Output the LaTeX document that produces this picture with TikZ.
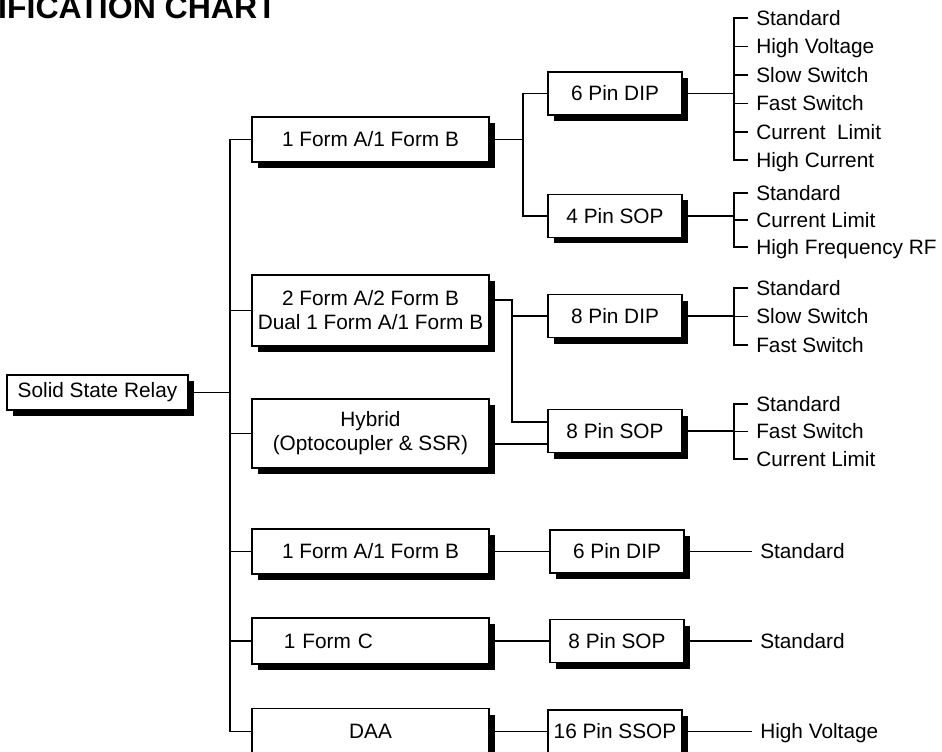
\documentclass[tikz,border=0pt]{standalone}
\usepackage{fontspec}
\setmainfont{Liberation Sans}
\usetikzlibrary{shadows}

\begin{document}
\begin{tikzpicture}[
			x=0.75pt,
			y=-0.75pt,
			every node/.style={font=\fontsize{15.6}{18}\selectfont},
			boxnode/.style={draw, fill=white, line width=0.9pt, align=center, inner sep=0pt,
				drop shadow={shadow xshift=4.5pt, shadow yshift=-4.5pt, fill=black, opacity=1}},
			typebox/.style={boxnode, minimum width=177.75pt, minimum height=33.75pt},
			pinbox/.style={boxnode, minimum width=100.5pt, minimum height=32.25pt},
			leaf/.style={anchor=west, inner xsep=6pt, inner ysep=0pt, text height=11.2pt, text depth=0pt},
			link/.style={line width=1.15pt}
		]
		\useasboundingbox (0,0) rectangle (942,752);
		\node[anchor=base east, inner sep=0pt, font=\fontsize{24}{28}\selectfont\bfseries] (title) at (277,19) {CLASSIFICATION CHART};

		% root and relay types
		\node[boxnode, minimum width=135.75pt, minimum height=26.25pt] (ssr) at (97.5,392.5) {Solid State Relay};
		\node[typebox] (f1a) at (370.5,139.5) {1 Form A/1 Form B};
		\node[typebox, minimum height=53.25pt] (f2a) at (370.5,310.5) {2 Form A/2 Form B\\Dual 1 Form A/1 Form B};
		\node[typebox, minimum height=51.75pt] (hyb) at (370.5,433.5) {Hybrid\\(Optocoupler \& SSR)};
		\node[typebox] (f1b) at (370.5,551.5) {1 Form A/1 Form B};
		\node[typebox, minimum height=34.5pt, text width=130pt, align=left] (f1c) at (370.5,641) {1 Form C};
		\node[typebox, minimum height=34.5pt] (daa) at (370.5,731.5) {DAA};

		% packages
		\node[pinbox] (dip6) at (615,93.5) {6 Pin DIP};
		\node[pinbox] (sop4) at (615,216) {4 Pin SOP};
		\node[pinbox] (dip8) at (615,316) {8 Pin DIP};
		\node[pinbox] (sop8) at (615,431) {8 Pin SOP};
		\node[pinbox] (dip6b) at (617,551.5) {6 Pin DIP};
		\node[pinbox] (sop8b) at (617,641) {8 Pin SOP};
		\node[pinbox] (ssop) at (615,731.5) {16 Pin SSOP};

		% variants
		\node[leaf] (a1) at (748,18) {Standard};
		\node[leaf] (a2) at (748,46.5) {High Voltage};
		\node[leaf] (a3) at (748,75) {Slow Switch};
		\node[leaf] (a4) at (748,103.5) {Fast Switch};
		\node[leaf] (a5) at (748,132) {Current\ \ Limit};
		\node[leaf] (a6) at (748,160) {High Current};
		\node[leaf] (b1) at (748,193) {Standard};
		\node[leaf] (b2) at (748,220) {Current Limit};
		\node[leaf] (b3) at (748,247) {High Frequency RF};
		\node[leaf] (c1) at (748,288) {Standard};
		\node[leaf] (c2) at (748,316.5) {Slow Switch};
		\node[leaf] (c3) at (748,345) {Fast Switch};
		\node[leaf] (d1) at (748,404) {Standard};
		\node[leaf] (d2) at (748,431.5) {Fast Switch};
		\node[leaf] (d3) at (748,459) {Current Limit};
		\node[leaf] (e1) at (752,551.5) {Standard};
		\node[leaf] (e2) at (752,641) {Standard};
		\node[leaf] (e3) at (752,731.5) {High Voltage};

		\coordinate (trunk) at (230,0);
		\coordinate (fork1) at (523,0);
		\coordinate (fork2) at (512,0);
		\coordinate (spine) at (734,0);
		\coordinate (in8) at ([yshift=6.75pt]sop8.west);

		% root to relay types
		\draw[link] (ssr.east) -- (ssr.east -| trunk);
		\draw[link] (f1a.west) -| (trunk |- daa.west) -- (daa.west);
		\draw[link] (trunk |- f2a.west) -- (f2a.west) (trunk |- hyb.west) -- (hyb.west)
			(trunk |- f1b.west) -- (f1b.west) (trunk |- f1c.west) -- (f1c.west);

		% relay types to packages
		\draw[link] (f1a.east) -- (f1a.east -| fork1);
		\draw[link] (dip6.west) -| (fork1 |- sop4.west) -- (sop4.west);
		\draw[link] ([yshift=8pt]f2a.east) -| (fork2 |- in8) -- (in8);
		\draw[link] (fork2 |- dip8.west) -- (dip8.west);
		\draw[link] ([yshift=-8pt]hyb.east) -- ([yshift=-8pt]hyb.east -| sop8.west);
		\draw[link] (f1b.east) -- (dip6b.west);
		\draw[link] (f1c.east) -- (sop8b.west);
		\draw[link] (daa.east) -- (ssop.west);

		% packages to variants
		\draw[link] (dip6.east) -- (dip6.east -| spine);
		\draw[link] (a1.west) -| (spine |- a6.west) -- (a6.west);
		\draw[link] (a2.west) -- (a2.west -| spine) (a3.west) -- (a3.west -| spine)
			(a4.west) -- (a4.west -| spine) (a5.west) -- (a5.west -| spine);
		\draw[link] (sop4.east) -- (sop4.east -| spine);
		\draw[link] (b1.west) -| (spine |- b3.west) -- (b3.west);
		\draw[link] (b2.west) -- (b2.west -| spine);
		\draw[link] (dip8.east) -- (dip8.east -| spine);
		\draw[link] (c1.west) -| (spine |- c3.west) -- (c3.west);
		\draw[link] (c2.west) -- (c2.west -| spine);
		\draw[link] (sop8.east) -- (sop8.east -| spine);
		\draw[link] (d1.west) -| (spine |- d3.west) -- (d3.west);
		\draw[link] (d2.west) -- (d2.west -| spine);
		\draw[link] (dip6b.east) -- (e1.west);
		\draw[link] (sop8b.east) -- (e2.west);
		\draw[link] (ssop.east) -- (e3.west);
	\end{tikzpicture}
\end{document}
